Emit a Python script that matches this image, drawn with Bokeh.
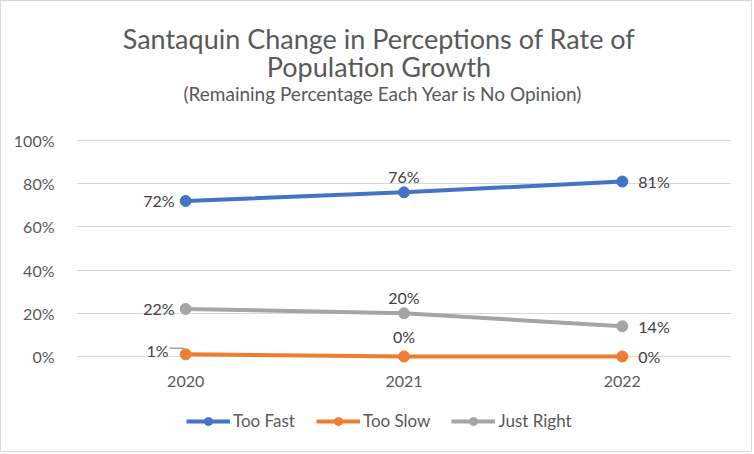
from bokeh.plotting import figure
from bokeh.models import (FactorRange, Range1d, Label, Legend, LegendItem,
                          PrintfTickFormatter, FixedTicker)
from bokeh.embed import file_html
from bokeh.resources import INLINE

# ---- data ----
years = ["2020", "2021", "2022"]
too_fast = [72, 76, 81]
too_slow = [1, 0, 0]
just_right = [22, 20, 14]
series_names = ["Too Fast", "Too Slow", "Just Right"]
y_ticks = [0, 20, 40, 60, 80, 100]
title_line1 = "Santaquin Change in Perceptions of Rate of"
title_line2 = "Population Growth"
subtitle = "(Remaining Percentage Each Year is No Opinion)"

# ---- styling ----
colors = ["#4472C4", "#ED7D31", "#A5A5A5"]
FONT = "Lato"
TXT = "#595959"
LBL = "#404040"
placements = [
    ["left", "above", "right"],
    ["left", "above", "right"],
    ["left", "above", "right"],
]

W, H = 752, 452
LEFT, RIGHT = 75, 22
Y0_PX, Y100_PX = 355, 139          # pixel rows of 0% and 100% inside the canvas
ppu = (Y0_PX - Y100_PX) / 100.0
ppx = (W - LEFT - RIGHT) / len(years)
y_lo = -(H - Y0_PX) / ppu
y_hi = 100 + Y100_PX / ppu

p = figure(width=W, height=H, output_backend="svg", toolbar_location=None,
           x_range=FactorRange(factors=years, range_padding=0),
           y_range=Range1d(y_lo, y_hi),
           min_border_left=LEFT, min_border_right=RIGHT,
           min_border_top=0, min_border_bottom=0)
p.styles = {"border": "1px solid #d9d9d9"}
p.outline_line_color = None
p.xgrid.grid_line_color = None
p.ygrid.grid_line_color = "#d9d9d9"
p.ygrid.grid_line_width = 1
p.yaxis.ticker = FixedTicker(ticks=y_ticks)
p.yaxis.formatter = PrintfTickFormatter(format="%d%%")
p.yaxis.axis_line_color = None
p.yaxis.major_tick_line_color = None
p.yaxis.minor_tick_line_color = None
p.yaxis.major_label_text_font = FONT
p.yaxis.major_label_text_font_size = "16px"
p.yaxis.major_label_text_color = TXT
p.yaxis.major_label_standoff = 16
p.xaxis.visible = False

renderers = []
for vals, col in zip([too_fast, too_slow, just_right], colors):
    r1 = p.line(years, vals, line_color=col, line_width=4)
    renderers.append([r1])

# leader line for the small "1%" label (drawn beneath the markers)
lx = 0.5
ly = too_slow[0]
p.line([lx - 16 / ppx, lx - 2 / ppx, lx - 2 / ppx],
       [ly + 6 / ppu, ly + 6 / ppu, ly],
       line_color="#a6a6a6", line_width=1.5)

for s, (vals, col) in enumerate(zip([too_fast, too_slow, just_right], colors)):
    r2 = p.scatter(years, vals, size=11, fill_color=col, line_color=col)
    renderers[s].append(r2)

# category labels along the bottom
for i, yr in enumerate(years):
    p.add_layout(Label(x=i + 0.5, y=0, y_offset=-25, text=yr, text_align="center",
                       text_baseline="middle", text_font=FONT, text_font_size="16px",
                       text_color=TXT))

# data labels
offsets = {"left": (-11, 0, "right"), "above": (0, 16, "center"), "right": (16, 0, "left")}
for s, vals in enumerate([too_fast, too_slow, just_right]):
    for i, v in enumerate(vals):
        dx, dy, al = offsets[placements[s][i]]
        if s == 1 and placements[s][i] == "above":
            dy = 20
        if s == 1 and placements[s][i] == "left":
            dx, dy = -17, 4
        p.add_layout(Label(x=i + 0.5, y=v, x_offset=dx, y_offset=dy, text=f"{v}%",
                           text_align=al, text_baseline="middle", text_font=FONT,
                           text_font_size="16px", text_color=LBL))

# titles
for txt, off, dx, size in [(title_line1, 102, -25, "27px"), (title_line2, 74, -25, "27px"),
                           (subtitle, 47, -21, "19px")]:
    p.add_layout(Label(x=1.5, y=100, x_offset=dx, y_offset=off, text=txt,
                       text_align="center", text_baseline="middle", text_font=FONT,
                       text_font_size=size, text_color=TXT))

legend = Legend(items=[LegendItem(label=n, renderers=r) for n, r in zip(series_names, renderers)],
                orientation="horizontal", location=(110, 22),
                glyph_width=44, glyph_height=20, label_height=20,
                label_standoff=3, spacing=21, padding=0, margin=0,
                border_line_color=None, background_fill_alpha=0,
                label_text_font=FONT, label_text_font_size="17px", label_text_color=TXT)
p.add_layout(legend, "center")

open("out.html", "w").write(file_html(p, INLINE))
